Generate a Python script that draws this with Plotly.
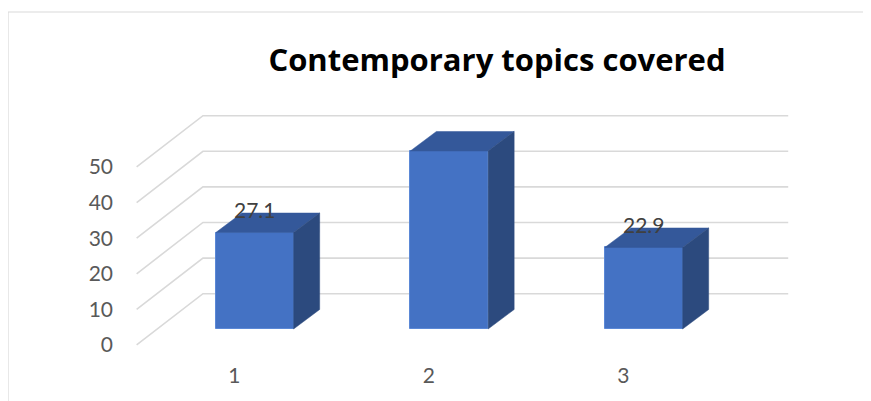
import plotly.graph_objects as go

# ---- data ----
categories = ["1", "2", "3"]
values = [27.1, 50.0, 22.9]
value_labels = ["27.1", "", "22.9"]
y_ticks = [0, 10, 20, 30, 40, 50]
title_text = "Contemporary topics covered"

# ---- style / geometry ----
OFF = 8                                # page body margin
W, H = 871 - OFF, 401 - OFF
PX_L, PX_R, PX_T, PX_B = 117 - OFF, 800 - OFF, 100 - OFF, 366 - OFF
X0_PX, X_STEP_PX = 254.7 - OFF, 194.5
Y0_PX, Y_UNIT_PX = 329.0 - OFF, 3.56

x_range = [(PX_L - X0_PX) / X_STEP_PX, (PX_R - X0_PX) / X_STEP_PX]
y_range = [(Y0_PX - PX_B) / Y_UNIT_PX, (Y0_PX - PX_T) / Y_UNIT_PX]

BAR_W = 0.4
BAR_DX, BAR_DY = 0.134, 5.48          # 3D depth of bars (data units)
WALL_FRONT_X, WALL_BACK_X, WALL_RIGHT_X = -0.607, -0.266, 2.743
WALL_FRONT_DY, WALL_BACK_DY = -4.49, 9.92
XTICK_SHIFT = -0.105

FRONT = "#4472C4"
TOP = "#34589A"
SIDE = "#2C4A7E"
GRID = "#D9D9D9"

fig = go.Figure()

# gridlines (side wall + back wall), drawn below the bars
for v in y_ticks:
    fig.add_shape(type="path", xref="x", yref="y", layer="below",
                  path=f"M {WALL_FRONT_X},{v + WALL_FRONT_DY} "
                       f"L {WALL_BACK_X},{v + WALL_BACK_DY} "
                       f"L {WALL_RIGHT_X},{v + WALL_BACK_DY}",
                  line=dict(color=GRID, width=1.6))

# 3D top and side faces
for i, v in enumerate(values):
    xl, xr = i - BAR_W / 2, i + BAR_W / 2
    fig.add_trace(go.Scatter(
        x=[xl, xr, xr + BAR_DX, xl + BAR_DX, xl],
        y=[v, v, v + BAR_DY, v + BAR_DY, v],
        fill="toself", fillcolor=TOP, mode="lines",
        line=dict(color=TOP, width=0.5),
        hoverinfo="skip", showlegend=False))
    fig.add_trace(go.Scatter(
        x=[xr, xr + BAR_DX, xr + BAR_DX, xr, xr],
        y=[0, BAR_DY, v + BAR_DY, v, 0],
        fill="toself", fillcolor=SIDE, mode="lines",
        line=dict(color=SIDE, width=0.5),
        hoverinfo="skip", showlegend=False))

# front faces
fig.add_trace(go.Bar(
    x=list(range(len(values))), y=values, width=BAR_W,
    marker=dict(color=FRONT, line=dict(color="#5B88D6", width=1)),
    hoverinfo="skip", showlegend=False))

# data labels
for i, (v, t) in enumerate(zip(values, value_labels)):
    if t:
        fig.add_annotation(x=i, y=v + 6.5, text=t, showarrow=False,
                           font=dict(family="Lato", size=21, color="#404040"),
                           xanchor="center", yanchor="middle")

# chart frame
def px_to_paper_x(px):
    return (px - PX_L) / (PX_R - PX_L)

def px_to_paper_y(py):
    return (PX_B - py) / (PX_B - PX_T)

fig.add_shape(type="line", xref="paper", yref="paper",
              x0=px_to_paper_x(8 - OFF), x1=px_to_paper_x(8 - OFF),
              y0=px_to_paper_y(12 - OFF), y1=px_to_paper_y(H + 20),
              line=dict(color=GRID, width=1.2))
fig.add_shape(type="line", xref="paper", yref="paper",
              x0=px_to_paper_x(8 - OFF), x1=px_to_paper_x(W + 20),
              y0=px_to_paper_y(12 - OFF), y1=px_to_paper_y(12 - OFF),
              line=dict(color=GRID, width=1.2))

fig.update_layout(
    width=W, height=H,
    margin=dict(l=PX_L, r=W - PX_R, t=PX_T, b=H - PX_B, autoexpand=False),
    plot_bgcolor="white", paper_bgcolor="white",
    title=dict(text="<b>" + title_text + "</b>", xref="container", yref="container",
               x=(497 - OFF) / W, y=1 - (60 - OFF) / H, xanchor="center", yanchor="middle",
               automargin=False,
               font=dict(family="Open Sans", size=31, color="#000000")),
    xaxis=dict(range=x_range, showgrid=False, zeroline=False, showline=False,
               automargin=False, ticklabelstandoff=-5,
               tickmode="array",
               tickvals=[i + XTICK_SHIFT for i in range(len(categories))],
               ticktext=categories, ticks="",
               tickfont=dict(family="Lato", size=21, color="#595959")),
    yaxis=dict(range=y_range, showgrid=False, zeroline=False, showline=False,
               automargin=False, ticklabelstandoff=3,
               tickmode="array",
               tickvals=[v + WALL_FRONT_DY for v in y_ticks],
               ticktext=[str(v) for v in y_ticks], ticks="",
               tickfont=dict(family="Lato", size=21, color="#595959")),
    bargap=0,
)

fig.write_html("out.html")
